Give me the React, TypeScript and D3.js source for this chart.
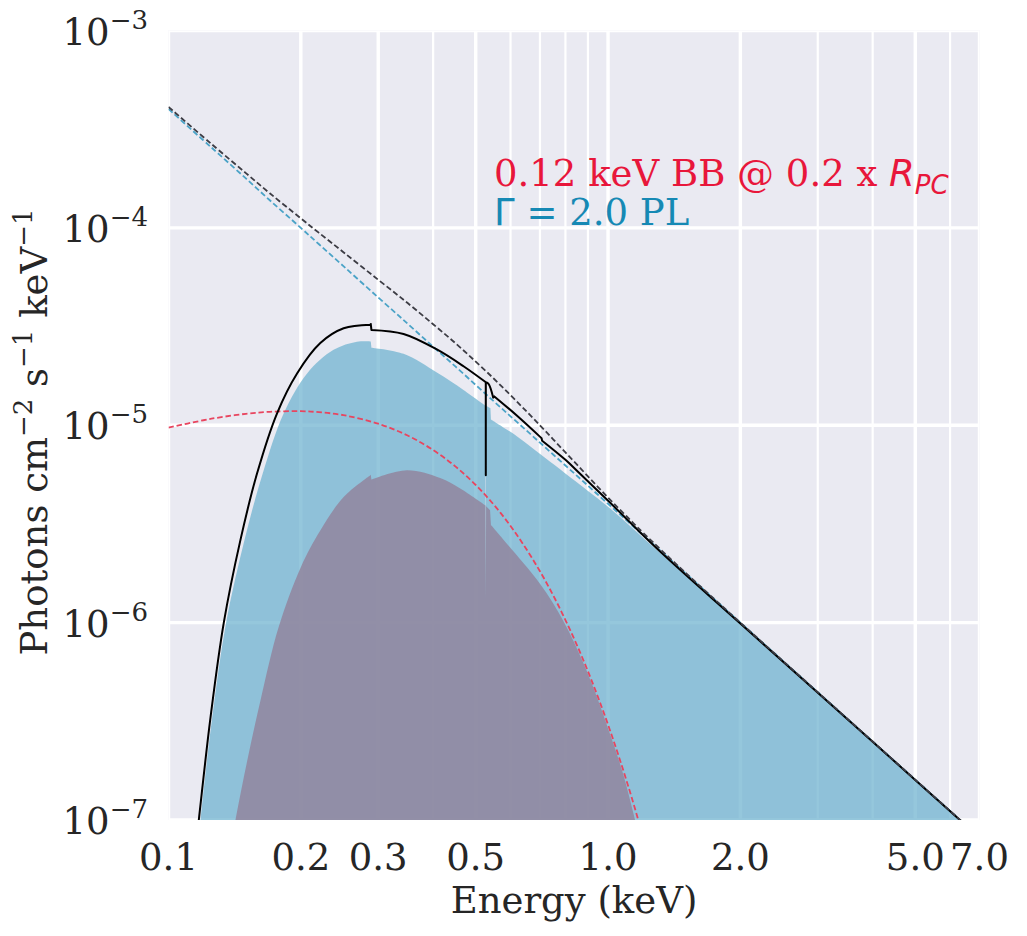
import * as d3 from 'd3';
import { useEffect, useRef } from 'react';

const WIDTH = 1027;
const HEIGHT = 936;
const SERIF = '"DejaVu Serif", serif';
const SANS = '"DejaVu Sans", sans-serif';

// Unabsorbed model components, photons cm^-2 s^-1 keV^-1
const modelEnergy = [0.1, 0.12, 0.13, 0.15, 0.17, 0.2, 0.22, 0.25, 0.3, 0.35, 0.4, 0.45, 0.5, 0.55, 0.6, 0.65, 0.7, 0.75, 0.8, 0.85, 0.9, 0.95, 1.0, 1.05, 1.1, 1.15, 1.2, 1.5, 2.0, 3.0, 5.0, 7.0];
const powerLaw = [4.0e-4, 2.78e-4, 2.37e-4, 1.78e-4, 1.38e-4, 1.0e-4, 8.26e-5, 6.4e-5, 4.44e-5, 3.27e-5, 2.5e-5, 1.98e-5, 1.6e-5, 1.32e-5, 1.11e-5, 9.47e-6, 8.16e-6, 7.11e-6, 6.25e-6, 5.54e-6, 4.94e-6, 4.43e-6, 4.0e-6, 3.63e-6, 3.31e-6, 3.02e-6, 2.78e-6, 1.78e-6, 1.0e-6, 4.44e-7, 1.6e-7, 8.16e-8];
const totalModel = [4.1e-4, 2.886e-4, 2.479e-4, 1.894e-4, 1.497e-4, 1.118e-4, 9.43e-5, 7.53e-5, 5.46e-5, 4.16e-5, 3.25e-5, 2.6e-5, 2.1e-5, 1.72e-5, 1.42e-5, 1.185e-5, 9.98e-6, 8.49e-6, 7.28e-6, 6.31e-6, 5.51e-6, 4.85e-6, 4.3e-6, 3.85e-6, 3.47e-6, 3.14e-6, 2.86e-6, 1.79e-6, 1.0e-6, 4.44e-7, 1.6e-7, 8.16e-8];

const bbEnergy = [0.1, 0.12, 0.13, 0.15, 0.17, 0.2, 0.22, 0.25, 0.3, 0.35, 0.4, 0.45, 0.5, 0.55, 0.6, 0.65, 0.7, 0.75, 0.8, 0.85, 0.9, 0.95, 1.0, 1.05, 1.1, 1.15, 1.2, 1.25];
const blackbody = [9.73e-6, 1.06e-5, 1.094e-5, 1.143e-5, 1.17e-5, 1.178e-5, 1.165e-5, 1.125e-5, 1.018e-5, 8.87e-6, 7.49e-6, 6.17e-6, 4.98e-6, 3.95e-6, 3.09e-6, 2.38e-6, 1.82e-6, 1.376e-6, 1.03e-6, 7.67e-7, 5.67e-7, 4.16e-7, 3.04e-7, 2.21e-7, 1.6e-7, 1.153e-7, 8.27e-8, 5.92e-8];

// Absorbed spectra (C, O and Fe-L edges, plus the narrow O feature)
const absTotalEnergy = [0.112, 0.1172, 0.1246, 0.1336, 0.1457, 0.159, 0.1766, 0.1961, 0.2215, 0.2503, 0.2878, 0.2885, 0.2895, 0.3426, 0.4079, 0.469, 0.5254, 0.527, 0.5271, 0.5272, 0.5346, 0.548, 0.5512, 0.62, 0.7007, 0.706, 0.708, 0.8, 0.8637, 1.01, 1.301, 2.0, 4.0, 7.0];
const absTotal = [4.0e-8, 1.0e-7, 3.3e-7, 1.0e-6, 2.61e-6, 5.69e-6, 1.15e-5, 1.83e-5, 2.61e-5, 3.1e-5, 3.23e-5, 3.26e-5, 3.04e-5, 2.9e-5, 2.42e-5, 1.99e-5, 1.66e-5, 1.65e-5, 5.58e-6, 1.65e-5, 1.62e-5, 1.38e-5, 1.4e-5, 1.12e-5, 8.73e-6, 8.6e-6, 8.35e-6, 6.68e-6, 5.68e-6, 4.06e-6, 2.34e-6, 9.9e-7, 2.49e-7, 8.15e-8];

const absPLEnergy = [0.112, 0.1182, 0.1257, 0.1352, 0.1488, 0.1638, 0.1829, 0.2067, 0.2374, 0.2684, 0.2885, 0.2895, 0.3426, 0.4079, 0.469, 0.5254, 0.5262, 0.5271, 0.528, 0.54, 0.5415, 0.62, 0.7007, 0.8637, 1.01, 1.301, 2.0, 4.0, 7.0];
const absPL = [3.0e-8, 1.0e-7, 3.3e-7, 1.0e-6, 2.61e-6, 5.69e-6, 1.15e-5, 1.83e-5, 2.41e-5, 2.65e-5, 2.66e-5, 2.47e-5, 2.3e-5, 1.85e-5, 1.51e-5, 1.26e-5, 1.258e-5, 1.29e-6, 1.255e-5, 1.22e-5, 1.07e-5, 8.8e-6, 7.16e-6, 5.0e-6, 3.8e-6, 2.3e-6, 9.9e-7, 2.49e-7, 8.15e-8];

const absBBEnergy = [0.135, 0.142, 0.151, 0.1618, 0.1781, 0.2, 0.2215, 0.2503, 0.287, 0.2885, 0.2895, 0.3486, 0.415, 0.461, 0.5254, 0.5262, 0.5271, 0.528, 0.539, 0.5415, 0.5886, 0.7007, 0.7913, 0.894, 0.993, 1.083, 1.152, 1.2];
const absBB = [5.4e-8, 1.0e-7, 1.99e-7, 4.01e-7, 9.5e-7, 1.91e-6, 2.93e-6, 4.33e-6, 5.55e-6, 5.62e-6, 5.3e-6, 5.91e-6, 5.4e-6, 4.78e-6, 3.93e-6, 3.91e-6, 1.29e-6, 3.89e-6, 3.71e-6, 3.12e-6, 2.51e-6, 1.57e-6, 1.02e-6, 5.7e-7, 3.05e-7, 1.7e-7, 1.0e-7, 7.0e-8];

const majorTicksX = [0.1, 0.2, 0.3, 0.5, 1.0, 2.0, 5.0, 7.0];
const minorTicksX = [0.4, 0.6, 0.7, 0.8, 0.9, 3, 4, 6];
const tickExponentsY = [-3, -4, -5, -6, -7];

type Pt = [number, number];
const zip = (xs: number[], ys: number[]): Pt[] => xs.map((e, i) => [e, ys[i]]);

const SpectrumChart = () => {
  const svgRef = useRef<SVGSVGElement | null>(null);

  useEffect(() => {
    if (!svgRef.current) return;
    const svg = d3.select(svgRef.current);
    svg.selectAll('*').remove();

    const left = 168.5, right = 979.5, top = 30.5, bottom = 820;

    const x = d3.scaleLog().domain([0.1, 7.0]).range([left, right]);
    const y = d3.scaleLog().domain([1e-7, 1e-3]).range([bottom, top]);

    svg.append('defs').append('clipPath').attr('id', 'plot-clip')
      .append('rect')
      .attr('x', left).attr('y', top)
      .attr('width', right - left).attr('height', bottom - top);

    // Axes background
    svg.append('rect')
      .attr('x', left).attr('y', top)
      .attr('width', right - left).attr('height', bottom - top)
      .attr('fill', '#eaeaf2');

    // Grid
    const grid = svg.append('g').attr('clip-path', 'url(#plot-clip)');
    grid.selectAll('.minor-x')
      .data(minorTicksX)
      .join('line')
      .attr('x1', d => x(d)).attr('x2', d => x(d))
      .attr('y1', top).attr('y2', bottom)
      .attr('stroke', '#fff').attr('stroke-width', 2.2);
    grid.selectAll('.major-x')
      .data(majorTicksX)
      .join('line')
      .attr('x1', d => x(d)).attr('x2', d => x(d))
      .attr('y1', top).attr('y2', bottom)
      .attr('stroke', '#fff').attr('stroke-width', 3.4);
    grid.selectAll('.major-y')
      .data(tickExponentsY)
      .join('line')
      .attr('x1', left).attr('x2', right)
      .attr('y1', d => y(Math.pow(10, d))).attr('y2', d => y(Math.pow(10, d)))
      .attr('stroke', '#fff').attr('stroke-width', 3.4);

    const plot = svg.append('g').attr('clip-path', 'url(#plot-clip)');

    const line = d3.line<Pt>()
      .x(d => x(d[0]))
      .y(d => y(d[1]))
      .curve(d3.curveCatmullRom.alpha(0.5));

    // Smooth runs joined by straight steps where points sit closer
    // than 1.5 px apart (absorption edges and the narrow feature).
    const steppedPath = (pts: Pt[]) => {
      const runs: Pt[][] = [];
      let cur: Pt[] = [pts[0]];
      for (let i = 1; i < pts.length; i++) {
        if (x(pts[i][0]) - x(pts[i - 1][0]) < 1.5) {
          runs.push(cur);
          cur = [pts[i]];
        } else {
          cur.push(pts[i]);
        }
      }
      runs.push(cur);
      return runs.map((r, i) => {
        const d = r.length === 1
          ? `M${x(r[0][0])},${y(r[0][1])}`
          : (line(r) as string);
        return i === 0 ? d : 'L' + d.slice(1);
      }).join('');
    };

    const areaPath = (pts: Pt[]) =>
      steppedPath(pts) +
      `L${x(pts[pts.length - 1][0])},${bottom + 5}L${x(pts[0][0])},${bottom + 5}Z`;

    // Absorbed power law and blackbody, filled
    plot.append('path')
      .attr('d', areaPath(zip(absPLEnergy, absPL)))
      .attr('fill', '#6cb2ce')
      .attr('fill-opacity', 0.72);
    plot.append('path')
      .attr('d', areaPath(zip(absBBEnergy, absBB)))
      .attr('fill', '#917a93')
      .attr('fill-opacity', 0.72);

    // Unabsorbed components
    plot.append('path')
      .attr('d', line(zip(bbEnergy, blackbody)))
      .attr('fill', 'none')
      .attr('stroke', '#e8455f')
      .attr('stroke-width', 1.8)
      .attr('stroke-dasharray', '5.5,2.8');
    plot.append('path')
      .attr('d', line(zip(modelEnergy, powerLaw)))
      .attr('fill', 'none')
      .attr('stroke', '#4ba3c7')
      .attr('stroke-width', 1.8)
      .attr('stroke-dasharray', '5.5,2.8');

    // Absorbed total
    plot.append('path')
      .attr('d', steppedPath(zip(absTotalEnergy, absTotal)))
      .attr('fill', 'none')
      .attr('stroke', '#000')
      .attr('stroke-width', 2)
      .attr('stroke-linejoin', 'round');

    // Unabsorbed total
    plot.append('path')
      .attr('d', line(zip(modelEnergy, totalModel)))
      .attr('fill', 'none')
      .attr('stroke', '#3c3c44')
      .attr('stroke-width', 1.8)
      .attr('stroke-dasharray', '5.5,2.8');

    // X tick labels
    svg.append('g')
      .selectAll('text')
      .data(majorTicksX)
      .join('text')
      .attr('x', d => x(d))
      .attr('y', 870)
      .attr('text-anchor', 'middle')
      .attr('font-family', SERIF)
      .attr('font-size', 37)
      .attr('fill', '#262626')
      .text(d => d.toFixed(1));

    // Y tick labels as powers of ten
    const yTicks = svg.append('g')
      .selectAll('text')
      .data(tickExponentsY)
      .join('text')
      .attr('x', 148)
      .attr('y', d => y(Math.pow(10, d)) + 14)
      .attr('text-anchor', 'end')
      .attr('font-family', SERIF)
      .attr('font-size', 37)
      .attr('fill', '#262626');
    yTicks.append('tspan').text('10');
    yTicks.append('tspan')
      .attr('dy', -16)
      .attr('font-size', 26)
      .text(d => `\u2212${-d}`);

    // Axis titles
    svg.append('text')
      .attr('x', (left + right) / 2)
      .attr('y', 913)
      .attr('text-anchor', 'middle')
      .attr('font-family', SERIF)
      .attr('font-size', 37)
      .attr('fill', '#262626')
      .text('Energy (keV)');

    const yTitle = svg.append('text')
      .attr('transform', 'translate(47,432) rotate(-90)')
      .attr('text-anchor', 'middle')
      .attr('font-family', SERIF)
      .attr('font-size', 37)
      .attr('fill', '#262626');
    yTitle.append('tspan').text('Photons cm');
    yTitle.append('tspan').attr('dy', -15).attr('font-size', 26).text('\u22122');
    yTitle.append('tspan').attr('dy', 15).text(' s');
    yTitle.append('tspan').attr('dy', -15).attr('font-size', 26).text('\u22121');
    yTitle.append('tspan').attr('dy', 15).text(' keV');
    yTitle.append('tspan').attr('dy', -15).attr('font-size', 26).text('\u22121');

    // Component labels
    const bbLabel = svg.append('text')
      .attr('x', 494)
      .attr('y', 186)
      .attr('font-family', SERIF)
      .attr('font-size', 37)
      .attr('fill', '#e8173b');
    bbLabel.append('tspan').text('0.12 keV BB @ 0.2 x ');
    bbLabel.append('tspan')
      .attr('font-family', SANS)
      .attr('font-style', 'italic')
      .text('R');
    bbLabel.append('tspan')
      .attr('font-family', SANS)
      .attr('font-style', 'italic')
      .attr('font-size', 26)
      .attr('dy', 8)
      .text('PC');

    const plLabel = svg.append('text')
      .attr('x', 494)
      .attr('y', 225)
      .attr('font-family', SERIF)
      .attr('font-size', 37)
      .attr('fill', '#1689b4');
    plLabel.append('tspan').attr('font-family', SANS).text('\u0393 = ');
    plLabel.append('tspan').text('2.0 PL');
  }, []);

  return (
    <svg
      ref={svgRef}
      width={WIDTH}
      height={HEIGHT}
      style={{ position: 'absolute', left: 0, top: 0, background: '#fff' }}
    />
  );
};

export default function App() {
  return <SpectrumChart />;
}
